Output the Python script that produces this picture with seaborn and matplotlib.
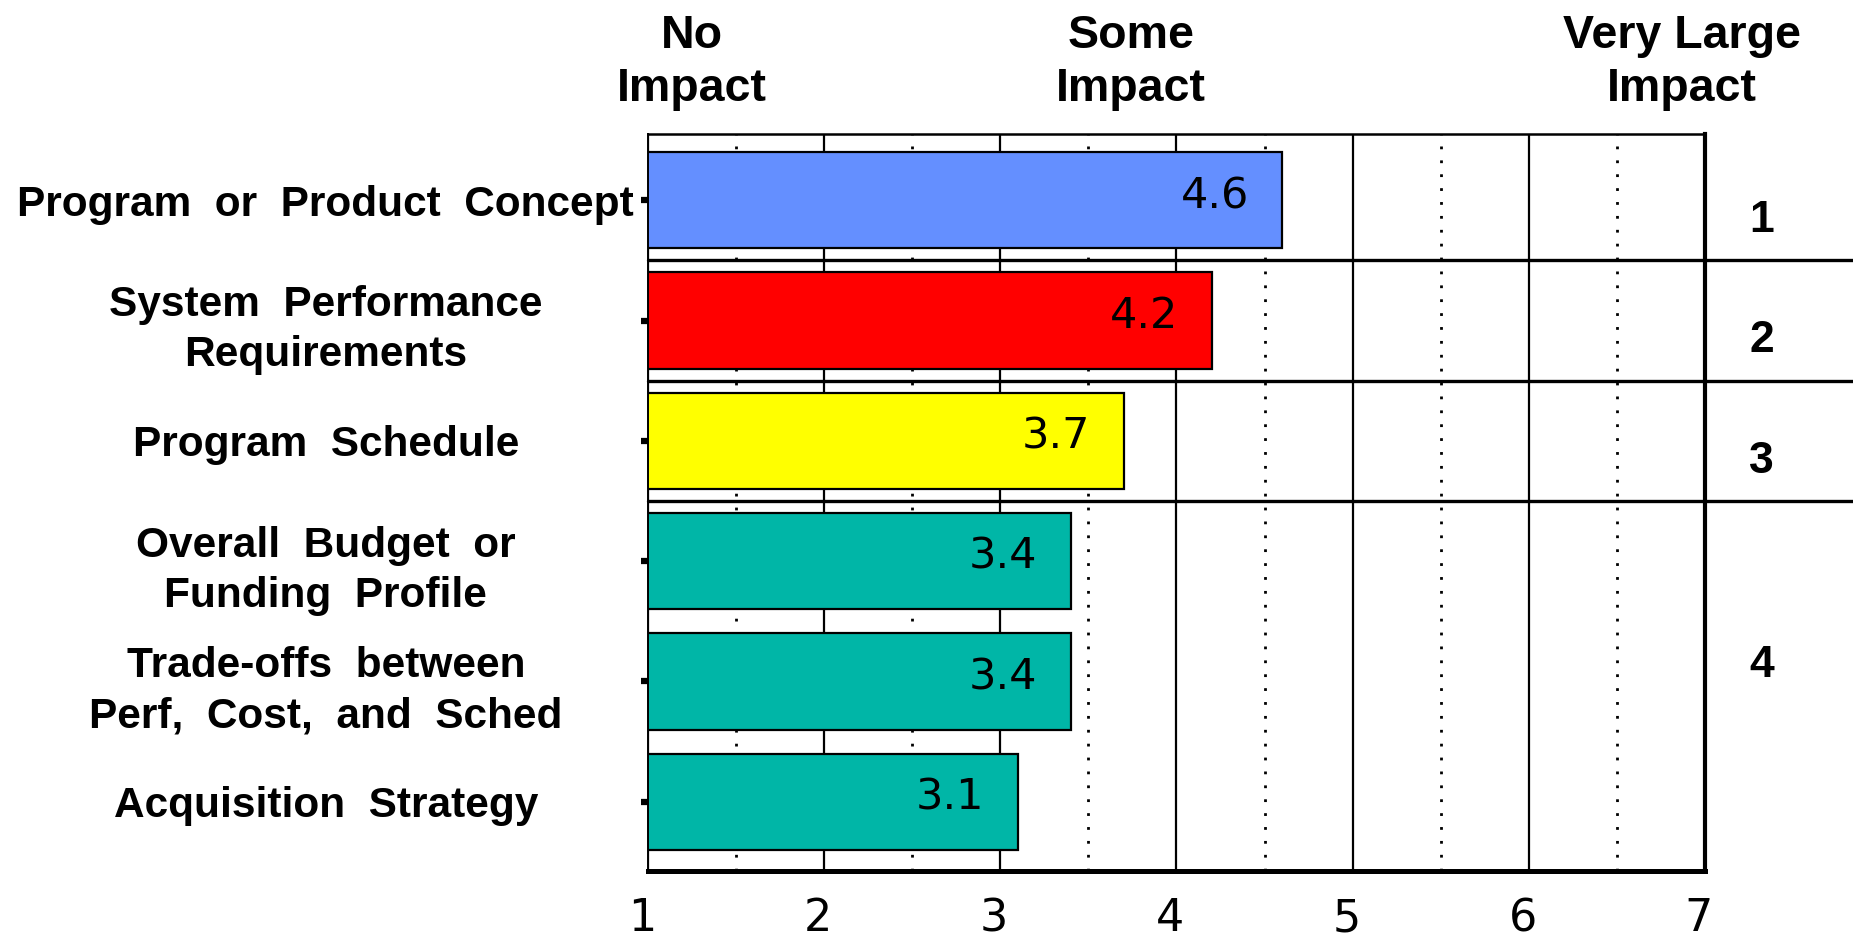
import matplotlib
matplotlib.use("Agg")
import matplotlib.pyplot as plt
import matplotlib.transforms as mtransforms
import numpy as np
import pandas as pd
import seaborn as sns

# Survey results: average impact rating per factor (1 = no impact, 7 = very large impact)
factor_labels = [
    "Program  or  Product  Concept",
    "System  Performance\nRequirements",
    "Program  Schedule",
    "Overall  Budget  or\nFunding  Profile",
    "Trade-offs  between\nPerf,  Cost,  and  Sched",
    "Acquisition  Strategy",
]
scores = [4.6, 4.2, 3.7, 3.4, 3.4, 3.1]
bar_colors = ["#648FFF", "#FF0000", "#FFFF00", "#00B6A7", "#00B6A7", "#00B6A7"]

# Rank groups shown on the right-hand side
rank_names = ["1", "2", "3", "4"]
rank_rows = [[0], [1], [2], [3, 4, 5]]

scale_ticks = [1, 2, 3, 4, 5, 6, 7]
scale_names = ["No\nImpact", "Some\nImpact", "Very Large\nImpact"]

sns.set_style("white")
plt.rcParams["font.family"] = ["Liberation Sans", "DejaVu Sans"]
plt.rcParams["text.color"] = "black"
plt.rcParams["xtick.labelcolor"] = "black"
plt.rcParams["ytick.labelcolor"] = "black"

fig = plt.figure(figsize=(18.53, 9.42), dpi=100)
ax = fig.add_axes([0.3497, 0.0754, 0.5704, 0.7823])

df = pd.DataFrame({"factor": factor_labels, "score": scores})
sns.barplot(
    data=df, x="score", y="factor", hue="factor", palette=bar_colors,
    orient="h", width=0.8, edgecolor="black", linewidth=1.6,
    legend=False, ax=ax, saturation=1,
)

ax.set_xlim(1, 7)
ax.set_ylim(5.575, -0.55)
ax.set_xlabel("")
ax.set_ylabel("")

# Vertical grid: solid at whole points, dotted at half points
ax.set_xticks(scale_ticks)
ax.set_xticks(np.arange(1.5, 7, 1.0), minor=True)
ax.set_axisbelow(True)
ax.grid(which="major", axis="x", color="black", linewidth=1.6, linestyle="-")
ax.grid(which="minor", axis="x", color="black", linewidth=2.0, linestyle=(0, (1.0, 4.0)))
ax.grid(which="major", axis="y", visible=False)

# Spines
for side, lw in [("left", 1.4), ("top", 1.8), ("right", 3.0), ("bottom", 3.6)]:
    ax.spines[side].set_visible(True)
    ax.spines[side].set_color("black")
    ax.spines[side].set_linewidth(lw)

# Tick styling
ax.tick_params(axis="x", which="both", length=0, pad=19, labelsize=32)
shift_left = mtransforms.ScaledTranslation(-6 / 100, 0, fig.dpi_scale_trans)
for lbl in ax.get_xticklabels():
    lbl.set_fontfamily(["DejaVu Sans"])
    lbl.set_transform(lbl.get_transform() + shift_left)
ax.tick_params(axis="y", which="major", left=True, length=5, width=4.5,
               color="black", pad=227, labelsize=30.5)
for lbl in ax.get_yticklabels():
    lbl.set_fontweight("bold")
    lbl.set_horizontalalignment("center")
    lbl.set_multialignment("center")
    lbl.set_linespacing(1.33)

# Value labels inside the bars
for row, val in enumerate(scores):
    ax.annotate(f"{val:.1f}", xy=(val, row), xytext=(-24, 3),
                textcoords="offset points", ha="right", va="center",
                fontsize=31, family=["DejaVu Sans"], color="black")

# Separators between rank groups, running to the right edge
for rows in rank_rows[:-1]:
    y_sep = rows[-1] + 0.5
    ax.plot([1, 7.85], [y_sep, y_sep], color="black", linewidth=2.4,
            clip_on=False, zorder=5)

# Rank numbers
for name, rows in zip(rank_names, rank_rows):
    y_mid = np.mean(rows) + (0.17 if len(rows) == 1 else -0.13)
    ax.text(7.32, y_mid, name, ha="center", va="center", fontsize=32,
            fontweight="bold", clip_on=False)

# Scale descriptions above the plot
scale_at = [1.25, 3.74, 6.87]
for name, xpos in zip(scale_names, scale_at):
    ax.text(xpos, 1.097, name, transform=ax.get_xaxis_transform(),
            ha="center", va="center", fontsize=33.5, fontweight="bold",
            linespacing=1.24, multialignment="center", clip_on=False)

fig.savefig("out.png", dpi=100, facecolor="white")
